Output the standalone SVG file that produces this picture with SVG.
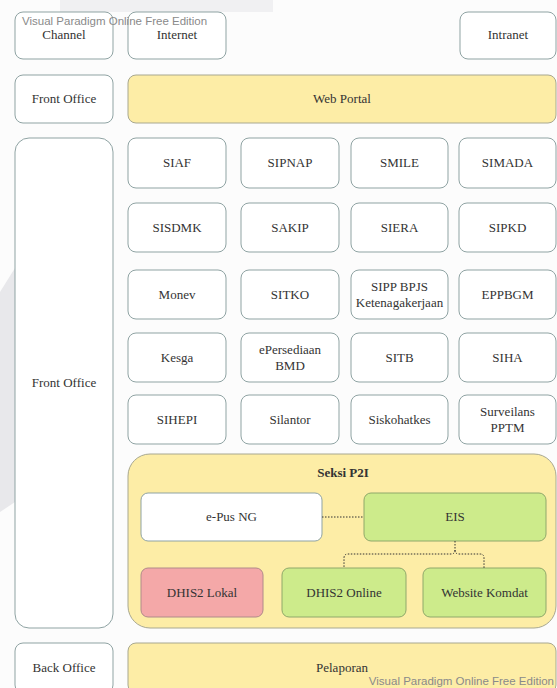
<svg xmlns="http://www.w3.org/2000/svg" width="557" height="688" viewBox="0 0 557 688">
<style>
.b{fill:#ffffff;stroke:#8fa3a3;stroke-width:1}
.y{fill:#fdeda6;stroke:#a8a890;stroke-width:1}
.g{fill:#cdeb8b;stroke:#8fa86a;stroke-width:1}
.r{fill:#f4a8a8;stroke:#b08a8a;stroke-width:1}
.t{font-family:'Liberation Serif','DejaVu Serif',serif;font-size:13px;fill:#333333;text-anchor:middle}
.bold{font-weight:bold}
.wm{font-family:'Liberation Sans',Arial,sans-serif;font-size:11.5px;fill:#8a8a8a}
.c{fill:none;stroke:#333333;stroke-width:1;stroke-dasharray:1.5 1.5}
</style>
<rect x="0" y="0" width="557" height="688" fill="#fcfcfc"/>
<rect x="60" y="0" width="213" height="12" fill="#f0f0f2"/>
<polygon points="0,292 15,268 15,502 0,512" fill="#e8e8eb"/>

<g id="channel"><rect class="b" x="15" y="12" width="98" height="47" rx="8"/><text class="t" font-family="Liberation Serif" x="64" y="39">Channel</text></g>
<g id="internet"><rect class="b" x="128" y="12" width="98" height="47" rx="8"/><text class="t" x="177" y="39">Internet</text></g>
<g id="intranet"><rect class="b" x="460" y="12" width="96" height="47" rx="8"/><text class="t" x="508" y="39">Intranet</text></g>

<g id="front-office-1"><rect class="b" x="15" y="75" width="98" height="48" rx="8"/><text class="t" x="64" y="103">Front Office</text></g>
<g id="web-portal"><rect class="y" x="128" y="75" width="428" height="48" rx="8"/><text class="t" x="342" y="103">Web Portal</text></g>

<g id="front-office-2"><rect class="b" x="15" y="138" width="98" height="490" rx="14"/><text class="t" x="64" y="387">Front Office</text></g>

<g id="siaf"><rect class="b" x="128" y="138" width="98" height="50" rx="8"/><text class="t" x="177" y="167">SIAF</text></g>
<g id="sipnap"><rect class="b" x="241" y="138" width="98" height="50" rx="8"/><text class="t" x="290" y="167">SIPNAP</text></g>
<g id="smile"><rect class="b" x="351" y="138" width="97" height="50" rx="8"/><text class="t" x="399.5" y="167">SMILE</text></g>
<g id="simada"><rect class="b" x="459" y="138" width="97" height="50" rx="8"/><text class="t" x="507.5" y="167">SIMADA</text></g>

<g id="sisdmk"><rect class="b" x="128" y="203" width="98" height="49" rx="8"/><text class="t" x="177" y="232">SISDMK</text></g>
<g id="sakip"><rect class="b" x="241" y="203" width="98" height="49" rx="8"/><text class="t" x="290" y="232">SAKIP</text></g>
<g id="siera"><rect class="b" x="351" y="203" width="97" height="49" rx="8"/><text class="t" x="399.5" y="232">SIERA</text></g>
<g id="sipkd"><rect class="b" x="459" y="203" width="97" height="49" rx="8"/><text class="t" x="507.5" y="232">SIPKD</text></g>

<g id="monev"><rect class="b" x="128" y="270" width="98" height="49" rx="8"/><text class="t" x="177" y="299">Monev</text></g>
<g id="sitko"><rect class="b" x="241" y="270" width="98" height="49" rx="8"/><text class="t" x="290" y="299">SITKO</text></g>
<g id="sipp-bpjs"><rect class="b" x="351" y="270" width="97" height="49" rx="8"/><text class="t" x="399.5" y="291">SIPP BPJS</text><text class="t" x="399.5" y="307">Ketenagakerjaan</text></g>
<g id="eppbgm"><rect class="b" x="459" y="270" width="97" height="49" rx="8"/><text class="t" x="507.5" y="299">EPPBGM</text></g>

<g id="kesga"><rect class="b" x="128" y="333" width="98" height="49" rx="8"/><text class="t" x="177" y="362">Kesga</text></g>
<g id="epersediaan"><rect class="b" x="241" y="333" width="98" height="49" rx="8"/><text class="t" x="290" y="354">ePersediaan</text><text class="t" x="290" y="370">BMD</text></g>
<g id="sitb"><rect class="b" x="351" y="333" width="97" height="49" rx="8"/><text class="t" x="399.5" y="362">SITB</text></g>
<g id="siha"><rect class="b" x="459" y="333" width="97" height="49" rx="8"/><text class="t" x="507.5" y="362">SIHA</text></g>

<g id="sihepi"><rect class="b" x="128" y="395" width="98" height="49" rx="8"/><text class="t" x="177" y="424">SIHEPI</text></g>
<g id="silantor"><rect class="b" x="241" y="395" width="98" height="49" rx="8"/><text class="t" x="290" y="424">Silantor</text></g>
<g id="siskohatkes"><rect class="b" x="351" y="395" width="97" height="49" rx="8"/><text class="t" x="399.5" y="424">Siskohatkes</text></g>
<g id="surveilans"><rect class="b" x="459" y="395" width="97" height="49" rx="8"/><text class="t" x="507.5" y="416">Surveilans</text><text class="t" x="507.5" y="432">PPTM</text></g>

<g id="seksi-p2i"><rect class="y" x="128" y="454" width="428" height="174" rx="22"/><text class="t bold" x="343" y="477">Seksi P2I</text></g>
<g id="epus-ng"><rect class="b" x="141" y="493" width="181" height="48" rx="7"/><text class="t" x="231.5" y="521">e-Pus NG</text></g>
<g id="eis"><rect class="g" x="364" y="493" width="182" height="48" rx="7"/><text class="t" x="455" y="521">EIS</text></g>
<g id="dhis2-lokal"><rect class="r" x="141" y="568" width="122" height="49" rx="7"/><text class="t" x="202" y="597">DHIS2 Lokal</text></g>
<g id="dhis2-online"><rect class="g" x="282" y="568" width="124" height="49" rx="7"/><text class="t" x="344" y="597">DHIS2 Online</text></g>
<g id="website-komdat"><rect class="g" x="423" y="568" width="123" height="49" rx="7"/><text class="t" x="484.5" y="597">Website Komdat</text></g>

<g id="back-office"><rect class="b" x="15" y="643" width="98" height="50" rx="8"/><text class="t" x="64" y="672">Back Office</text></g>
<g id="pelaporan"><rect class="y" x="128" y="643" width="428" height="50" rx="8"/><text class="t" x="342" y="672">Pelaporan</text></g>

<g id="connectors">
<line class="c" x1="322" y1="517" x2="364" y2="517"/>
<path class="c" d="M455,541 V550 Q455,554 451,554 H348 Q344,554 344,558 V568"/>
<path class="c" d="M455,550 Q455,554 459,554 H480 Q484,554 484,558 V568"/>
</g>

<text class="wm" x="22" y="25">Visual Paradigm Online Free Edition</text>
<text class="wm" x="554" y="685" text-anchor="end">Visual Paradigm Online Free Edition</text>
</svg>
